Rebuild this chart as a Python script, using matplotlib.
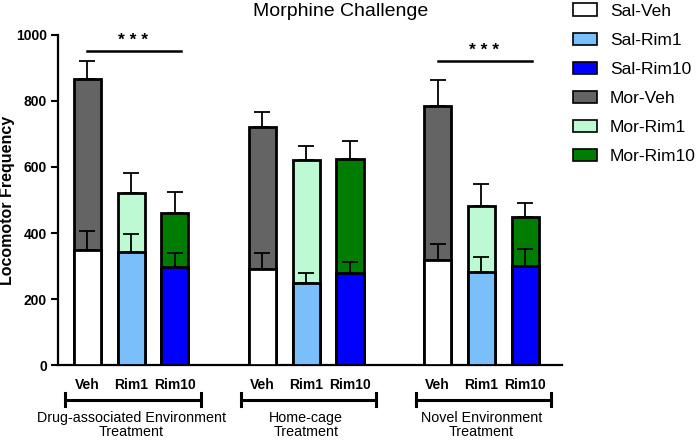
import matplotlib
matplotlib.use("Agg")
import matplotlib.pyplot as plt
import matplotlib.transforms as mtransforms
from matplotlib.patches import Patch

plt.rcParams['font.family'] = ['Liberation Sans', 'DejaVu Sans']

# ---------------- data ----------------
groups = ["Drug-associated Environment\nTreatment", "Home-cage\nTreatment", "Novel Environment\nTreatment"]
drugs = ["Veh", "Rim1", "Rim10"]
sal_mean = [[348, 341, 298], [291, 249, 278], [318, 281, 300]]
sal_err = [[59, 56, 40], [47, 31, 34], [50, 47, 52]]
mor_mean = [[867, 520, 460], [722, 622, 625], [785, 483, 449]]
mor_err = [[54, 63, 63], [46, 41, 53], [78, 65, 42]]
sal_labels = ["Sal-Veh", "Sal-Rim1", "Sal-Rim10"]
mor_labels = ["Mor-Veh", "Mor-Rim1", "Mor-Rim10"]
sal_colors = ["#ffffff", "#7bbffa", "#0000ff"]
mor_colors = ["#646464", "#bdfad3", "#007d00"]
sig_groups = [0, 2]
sig_text = "* * *"
sig_y = [952, 921]
ylim = (0, 1000)
yticks = [0, 200, 400, 600, 800, 1000]

fig = plt.figure(figsize=(6.99, 4.40), dpi=100)
ax = fig.add_axes([58/699, 75/440, (562-58)/699, 330/440])

width = 0.62
xs_all, xl_all = [], []
for g in range(len(groups)):
    for j in range(len(drugs)):
        x = 4*g + j
        xs_all.append(x)
        xl_all.append(drugs[j])
        ax.bar(x, mor_mean[g][j], width, color=mor_colors[j], edgecolor='black',
               linewidth=2.0, zorder=2)
        ax.errorbar(x, mor_mean[g][j], yerr=[[0], [mor_err[g][j]]], fmt='none',
                    ecolor='black', elinewidth=1.3, capsize=5.5, capthick=1.3, zorder=1.5)
        ax.bar(x, sal_mean[g][j], width, color=sal_colors[j], edgecolor='black',
               linewidth=2.0, zorder=3)
        ax.errorbar(x, sal_mean[g][j], yerr=[[0], [sal_err[g][j]]], fmt='none',
                    ecolor='black', elinewidth=1.3, capsize=5.5, capthick=1.3, zorder=4)

ax.set_xlim(-0.67, 10.84)
ax.set_ylim(*ylim)
ax.set_yticks(yticks)
ax.set_xticks(xs_all)
ax.set_xticklabels(xl_all, fontweight='bold', fontsize=10)
ax.tick_params(axis='x', length=0, pad=9)
ax.tick_params(axis='y', length=5, width=1.5, pad=3, labelsize=10)
for t in ax.get_yticklabels():
    t.set_fontweight('bold')
for s in ['top', 'right']:
    ax.spines[s].set_visible(False)
for s in ['left', 'bottom']:
    ax.spines[s].set_linewidth(1.6)
ax.set_ylabel("Locomotor Frequency", fontweight='bold', fontsize=11.5)
ax.yaxis.set_label_coords(-0.085, 0.5)

# significance
for k, g in enumerate(sig_groups):
    ax.plot([4*g, 4*g + 2.15], [sig_y[k], sig_y[k]], color='black', lw=1.8,
            clip_on=False, zorder=5)
    ax.text(4*g + 1.05, sig_y[k] + 8, sig_text, ha='center', va='bottom',
            fontsize=12.5, fontweight='bold', clip_on=False)

# group brackets
trans = mtransforms.blended_transform_factory(ax.transData, ax.transAxes)
for g in range(len(groups)):
    x0, x1 = 4*g - 0.5, 4*g + 2.6
    yb = -0.106
    ax.plot([x0, x1], [yb, yb], color='black', lw=2.2, transform=trans, clip_on=False)
    for xx in (x0, x1):
        ax.plot([xx, xx], [yb - 0.017, yb + 0.02], color='black', lw=2.2,
                transform=trans, clip_on=False)
    ax.text(4*g + 1, -0.138, groups[g], ha='center', va='top', transform=trans,
            fontsize=10.3, linespacing=1.0)

fig.text(341/699, 1 - 12/440, "Morphine Challenge", ha='center', va='center', fontsize=14)

handles = [Patch(facecolor=c, edgecolor='black', linewidth=1.2) for c in sal_colors + mor_colors]
fig.legend(handles, sal_labels + mor_labels, loc='upper left',
           bbox_to_anchor=(570/699, 1.0), frameon=False, fontsize=12.5,
           handlelength=1.35, handleheight=0.7, handletextpad=0.75,
           labelspacing=0.8, borderpad=0.2, borderaxespad=0)

fig.savefig("out.png", dpi=100)
